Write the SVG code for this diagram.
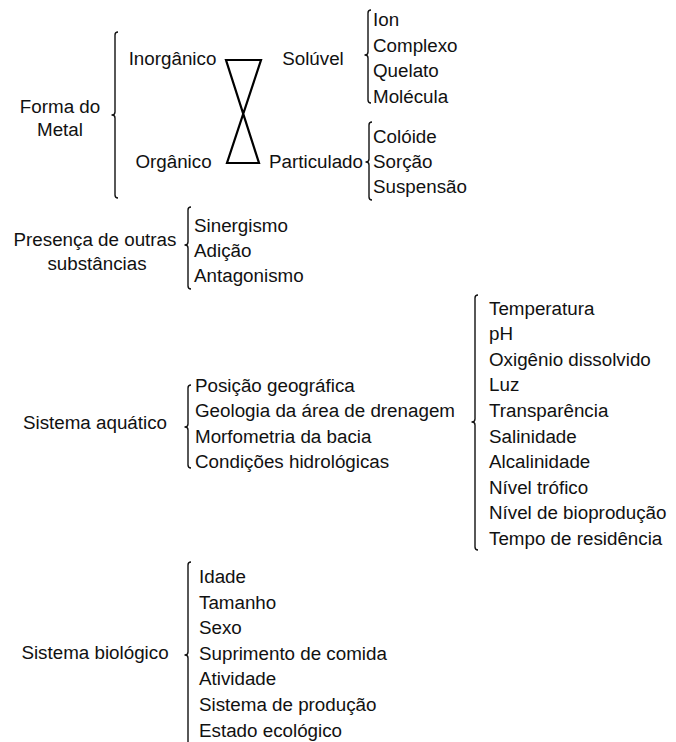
<svg xmlns="http://www.w3.org/2000/svg" width="676" height="742" viewBox="0 0 676 742">
<style>
text{font-family:"Liberation Sans",Arial,sans-serif;font-size:18.8px;fill:#111}
.m{text-anchor:middle}
.br{fill:none;stroke:#111;stroke-width:1.4;stroke-linejoin:round}
.hg{fill:none;stroke:#000;stroke-width:2.2;stroke-linejoin:miter}
</style>
<rect width="676" height="742" fill="#fff"/>
<g id="connectors">
<path class="br" d="M118,32 Q115,32 115,35 L115,112 Q115,115 112,115 Q115,115 115,118 L115,195 Q115,198 118,198"/>
<path class="br" d="M371,10 Q368,10 368,13 L368,52 Q368,55 365,55 Q368,55 368,58 L368,100 Q368,103 371,103"/>
<path class="br" d="M372,122 Q369,122 369,125 L369,159 Q369,162 366,162 Q369,162 369,165 L369,197 Q369,200 372,200"/>
<path class="br" d="M191,207 Q188,207 188,210 L188,242 Q188,245 185,245 Q188,245 188,248 L188,286 Q188,289 191,289"/>
<path class="br" d="M191,385 Q188,385 188,388 L188,424 Q188,427 185,427 Q188,427 188,430 L188,465 Q188,468 191,468"/>
<path class="br" d="M478,295 Q475,295 475,298 L475,419 Q475,422 472,422 Q475,422 475,425 L475,547 Q475,550 478,550"/>
<path class="br" d="M191,562 Q188,562 188,565 L188,652 Q188,655 185,655 Q188,655 188,658 L188,745"/>
<path class="hg" d="M226,60 L261,60 L227,163 L259,163 Z"/>
</g>
<g id="forma"><text class="m" x="60" y="112.5">Forma do</text><text class="m" x="60" y="135.5">Metal</text></g>
<g id="inorganico"><text class="m" x="172.5" y="65">Inorgânico</text></g>
<g id="organico"><text class="m" x="173.5" y="168">Orgânico</text></g>
<g id="soluvel"><text class="m" x="313" y="65">Solúvel</text></g>
<g id="particulado"><text x="363" y="168" text-anchor="end">Particulado</text></g>
<g id="soluvel-list">
<text x="373" y="26">Ion</text>
<text x="373" y="51.5">Complexo</text>
<text x="373" y="77">Quelato</text>
<text x="373" y="102.5">Molécula</text>
</g>
<g id="particulado-list">
<text x="373" y="143">Colóide</text>
<text x="373" y="168">Sorção</text>
<text x="373" y="193">Suspensão</text>
</g>
<g id="presenca"><text class="m" x="95" y="246">Presença de outras</text><text class="m" x="97" y="270">substâncias</text></g>
<g id="presenca-list">
<text x="194" y="232">Sinergismo</text>
<text x="194" y="257">Adição</text>
<text x="194" y="282">Antagonismo</text>
</g>
<g id="aquatico"><text class="m" x="95" y="429">Sistema aquático</text></g>
<g id="aquatico-list">
<text x="195" y="392">Posição geográfica</text>
<text x="195" y="417">Geologia da área de drenagem</text>
<text x="195" y="443">Morfometria da bacia</text>
<text x="195" y="468">Condições hidrológicas</text>
</g>
<g id="aquatico-list2">
<text x="489" y="314.5">Temperatura</text>
<text x="489" y="340.1">pH</text>
<text x="489" y="365.7">Oxigênio dissolvido</text>
<text x="489" y="391.3">Luz</text>
<text x="489" y="416.9">Transparência</text>
<text x="489" y="442.5">Salinidade</text>
<text x="489" y="468.1">Alcalinidade</text>
<text x="489" y="493.7">Nível trófico</text>
<text x="489" y="519.3">Nível de bioprodução</text>
<text x="489" y="544.9">Tempo de residência</text>
</g>
<g id="biologico"><text class="m" x="95" y="659">Sistema biológico</text></g>
<g id="biologico-list">
<text x="199" y="583">Idade</text>
<text x="199" y="608.6">Tamanho</text>
<text x="199" y="634.2">Sexo</text>
<text x="199" y="659.8">Suprimento de comida</text>
<text x="199" y="685.4">Atividade</text>
<text x="199" y="711">Sistema de produção</text>
<text x="199" y="736.6">Estado ecológico</text>
</g>
</svg>
